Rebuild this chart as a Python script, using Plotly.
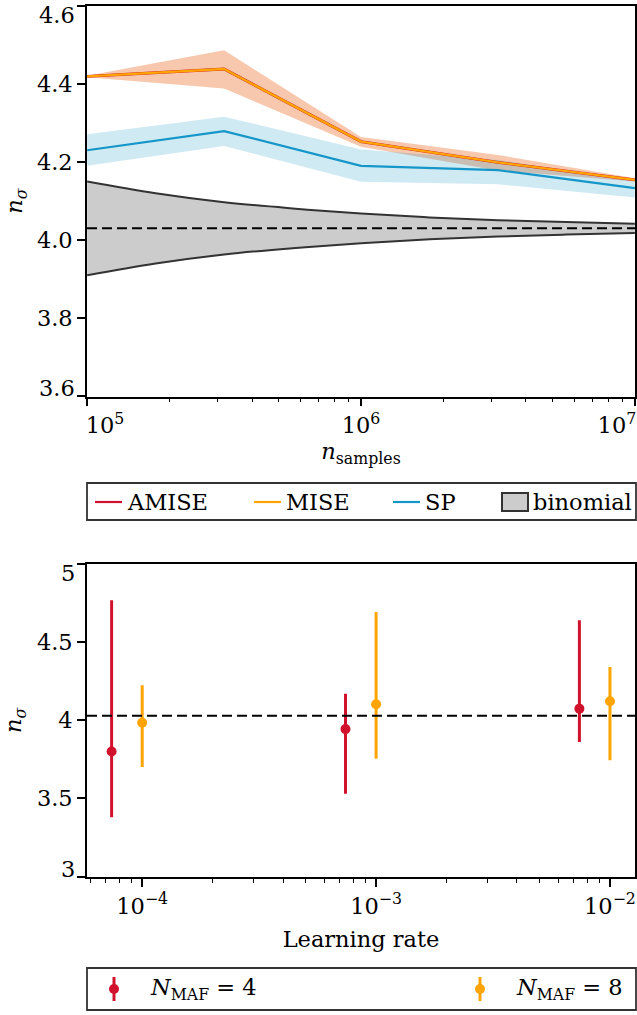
import plotly.graph_objects as go

W, H = 637, 1015
FONT = "DejaVu Serif"
FS = 22.5

# ---- top panel: n_sigma vs number of samples ----
n_samples = [1e5, 3.162e5, 1e6, 3.162e6, 1e7]
amise = [4.419, 4.438, 4.252, 4.199, 4.154]
amise_lo = [4.417, 4.388, 4.239, 4.178, 4.150]
amise_hi = [4.421, 4.486, 4.264, 4.218, 4.158]
mise = [4.419, 4.438, 4.252, 4.199, 4.154]
mise_lo = [4.417, 4.388, 4.239, 4.178, 4.150]
mise_hi = [4.421, 4.486, 4.264, 4.218, 4.158]
sp = [4.230, 4.279, 4.190, 4.179, 4.133]
sp_lo = [4.190, 4.241, 4.149, 4.143, 4.109]
sp_hi = [4.271, 4.316, 4.232, 4.205, 4.152]

binom_n = [1e5, 1.778e5, 3.162e5, 5.623e5, 1e6, 1.778e6, 3.162e6, 5.623e6, 1e7]
binom_hi = [4.150, 4.120, 4.097, 4.081, 4.068, 4.058, 4.051, 4.046, 4.042]
binom_lo = [3.910, 3.940, 3.963, 3.979, 3.992, 4.002, 4.009, 4.014, 4.018]

n_sigma_ref = 4.03

top_yticks = [3.6, 3.8, 4.0, 4.2, 4.4, 4.6]
top_yticklabels = ["3.6", "3.8", "4.0", "4.2", "4.4", "4.6"]
top_xticks = [1e5, 1e6, 1e7]
top_xticklabels = ["\u00a0" * 5 + "10<sup>5</sup>", "10<sup>6</sup>", "10<sup>7</sup>" + "\u00a0" * 5]

# ---- bottom panel: n_sigma vs learning rate ----
learning_rate = [1e-4, 1e-3, 1e-2]
maf4 = [3.801, 3.944, 4.075]
maf4_hi = [4.769, 4.171, 4.641]
maf4_lo = [3.380, 3.530, 3.861]
maf8 = [3.985, 4.103, 4.122]
maf8_hi = [4.224, 4.694, 4.342]
maf8_lo = [3.701, 3.754, 3.744]
dodge = 0.74  # N_MAF = 4 points are drawn slightly left of their learning rate

bot_yticks = [3, 3.5, 4, 4.5, 5]
bot_yticklabels = ["3", "3.5", "4", "4.5", "5"]
bot_xticks = [1e-4, 1e-3, 1e-2]
bot_xticklabels = ["10<sup>\u22124</sup>", "10<sup>\u22123</sup>", "10<sup>\u22122</sup>"]

RED = "#d0122d"
ORANGE = "#ffa400"
BLUE = "#1596c8"
DARK = "#333333"
EPS = 0.0006  # keeps the end ticks inside the axis range


def rgba(hex_color, a):
    h = hex_color.lstrip("#")
    r, g, b = int(h[0:2], 16), int(h[2:4], 16), int(h[4:6], 16)
    return f"rgba({r},{g},{b},{a})"


def px(x):
    return x / W


def py(y):
    return 1 - y / H


fig = go.Figure()


def band(x, lo, hi, color, xa="x", ya="y"):
    fig.add_trace(go.Scatter(
        x=list(x) + list(x)[::-1], y=list(hi) + list(lo)[::-1],
        fill="toself", fillcolor=color, line=dict(width=0),
        mode="lines", hoverinfo="skip", xaxis=xa, yaxis=ya))


# binomial band
band(binom_n, binom_lo, binom_hi, "rgba(0,0,0,0.2)")
for edge in (binom_hi, binom_lo):
    fig.add_trace(go.Scatter(x=binom_n, y=edge, mode="lines",
                             line=dict(color=DARK, width=2, shape="spline"),
                             xaxis="x", yaxis="y"))

# method bands
band(n_samples, mise_lo, mise_hi, rgba(ORANGE, 0.22))
band(n_samples, amise_lo, amise_hi, rgba(RED, 0.16))
band(n_samples, sp_lo, sp_hi, rgba(BLUE, 0.2))

# method lines
fig.add_trace(go.Scatter(x=n_samples, y=sp, mode="lines",
                         line=dict(color=BLUE, width=2.2), xaxis="x", yaxis="y"))
fig.add_trace(go.Scatter(x=n_samples, y=amise, mode="lines",
                         line=dict(color=RED, width=2.9), xaxis="x", yaxis="y"))
fig.add_trace(go.Scatter(x=n_samples, y=mise, mode="lines",
                         line=dict(color=ORANGE, width=2.3), xaxis="x", yaxis="y"))

# reference level lines
for xr, yr in (("x domain", "y"), ("x2 domain", "y2")):
    fig.add_shape(type="line", xref=xr, yref=yr, x0=0, x1=1,
                  y0=n_sigma_ref, y1=n_sigma_ref,
                  line=dict(color="black", width=2, dash="10px,5px"))

# bottom panel error bars
fig.add_trace(go.Scatter(
    x=[v * dodge for v in learning_rate], y=maf4, mode="markers",
    marker=dict(color=RED, size=10),
    error_y=dict(type="data", symmetric=False,
                 array=[h - m for h, m in zip(maf4_hi, maf4)],
                 arrayminus=[m - l for m, l in zip(maf4, maf4_lo)],
                 color=RED, thickness=3, width=0),
    xaxis="x2", yaxis="y2"))
fig.add_trace(go.Scatter(
    x=learning_rate, y=maf8, mode="markers",
    marker=dict(color=ORANGE, size=10),
    error_y=dict(type="data", symmetric=False,
                 array=[h - m for h, m in zip(maf8_hi, maf8)],
                 arrayminus=[m - l for m, l in zip(maf8, maf8_lo)],
                 color=ORANGE, thickness=3, width=0),
    xaxis="x2", yaxis="y2"))

axis_common = dict(
    showgrid=False, zeroline=False, ticks="outside", ticklen=8, tickwidth=1.5,
    tickcolor="black", linecolor="black", linewidth=1.6, mirror=True,
    tickfont=dict(family=FONT, size=FS, color="black"), automargin=False,
    ticklabeloverflow="allow",
)

x_dom = [px(87), px(635)]

top_minor = [m * 10 ** e for e in (5, 6) for m in range(2, 10)]
bot_minor = ([m * 1e-5 for m in (6, 7, 8, 9)] + [m * 1e-4 for m in range(2, 10)]
             + [m * 1e-3 for m in range(2, 10)])


def inner_labels(labels):
    # end labels are placed separately, nudged inward
    return [""] + labels[1:-1] + [""]


fig.update_layout(
    width=W, height=H, margin=dict(l=0, r=0, t=0, b=0),
    paper_bgcolor="white", plot_bgcolor="white", showlegend=False,
    font=dict(family=FONT, size=FS, color="black"),
    xaxis=dict(axis_common, domain=x_dom, anchor="y", type="log",
               range=[5 - EPS, 7 + EPS],
               tickmode="array", tickvals=top_xticks, ticktext=top_xticklabels,
               minor=dict(ticks="outside", ticklen=4, tickwidth=1.2, tickcolor="black",
                          tickvals=top_minor),
               title=dict(text="<i>n</i><sub>samples</sub>", standoff=6,
                          font=dict(family=FONT, size=FS))),
    yaxis=dict(axis_common, domain=[py(396.5), py(5.5)], anchor="x",
               range=[3.6 - EPS, 4.6 + EPS],
               tickmode="array", tickvals=top_yticks,
               ticktext=inner_labels(top_yticklabels),
               title=dict(text="<i>n<sub>\u03c3</sub></i>", standoff=8,
                          font=dict(family=FONT, size=FS))),
    xaxis2=dict(axis_common, domain=x_dom, anchor="y2", type="log",
                range=[-4.236, -1.893],
                tickmode="array", tickvals=bot_xticks, ticktext=bot_xticklabels,
                minor=dict(ticks="outside", ticklen=4, tickwidth=1.2, tickcolor="black",
                           tickvals=bot_minor),
                title=dict(text="Learning rate", standoff=14,
                           font=dict(family=FONT, size=FS))),
    yaxis2=dict(axis_common, domain=[py(876.7), py(564)], anchor="x2",
                range=[3 - EPS, 5 + EPS],
                tickmode="array", tickvals=bot_yticks,
                ticktext=inner_labels(bot_yticklabels),
                title=dict(text="<i>n<sub>\u03c3</sub></i>", standoff=20,
                           font=dict(family=FONT, size=FS))),
)

# end tick labels of the y axes, nudged toward the inside of the axis
for yref, vals, labels in (("y", top_yticks, top_yticklabels),
                           ("y2", bot_yticks, bot_yticklabels)):
    for v, lab, shift in ((vals[0], labels[0], 8), (vals[-1], labels[-1], -9)):
        fig.add_annotation(xref="paper", yref=yref, x=px(77), y=v, yshift=shift,
                           xanchor="right", yanchor="middle", showarrow=False,
                           text=lab, font=dict(family=FONT, size=FS, color="black"))


# ---- legends ----
def paper_rect(x0, y0, x1, y1, **kw):
    fig.add_shape(type="rect", xref="paper", yref="paper",
                  x0=px(x0), x1=px(x1), y0=py(y1), y1=py(y0), **kw)


def paper_line(x0, y0, x1, y1, color, width):
    fig.add_shape(type="line", xref="paper", yref="paper",
                  x0=px(x0), x1=px(x1), y0=py(y0), y1=py(y1),
                  line=dict(color=color, width=width))


def paper_text(x, y, text):
    fig.add_annotation(xref="paper", yref="paper", x=px(x), y=py(y),
                       xanchor="left", yanchor="middle", showarrow=False,
                       text=text, font=dict(family=FONT, size=FS, color="black"))


# top legend
paper_rect(87, 483, 636, 520, line=dict(color=DARK, width=1.8), fillcolor="white")
ly = 502
for x0, color, label in ((95, RED, "AMISE"), (254, ORANGE, "MISE"), (393, BLUE, "SP")):
    paper_line(x0, ly, x0 + 27, ly, color, 2.2)
    paper_text(x0 + 30, ly, label)
paper_rect(502, 493, 528, 511, line=dict(color=DARK, width=2), fillcolor="#cccccc")
paper_text(531, ly, "binomial")

# bottom legend
paper_rect(87, 968, 636, 1010, line=dict(color=DARK, width=1.8), fillcolor="white")
by = 989
for x0, color, label in ((114, RED, "<i>N</i><sub>MAF</sub> = 4"),
                         (480, ORANGE, "<i>N</i><sub>MAF</sub> = 8")):
    paper_line(x0, by - 12, x0, by + 12, color, 3)
    fig.add_shape(type="circle", xref="paper", yref="paper",
                  x0=px(x0 - 5), x1=px(x0 + 5), y0=py(by + 5), y1=py(by - 5),
                  line=dict(color=color, width=0), fillcolor=color)
    paper_text(x0 + 34, by, label)

fig.write_html("out.html")
